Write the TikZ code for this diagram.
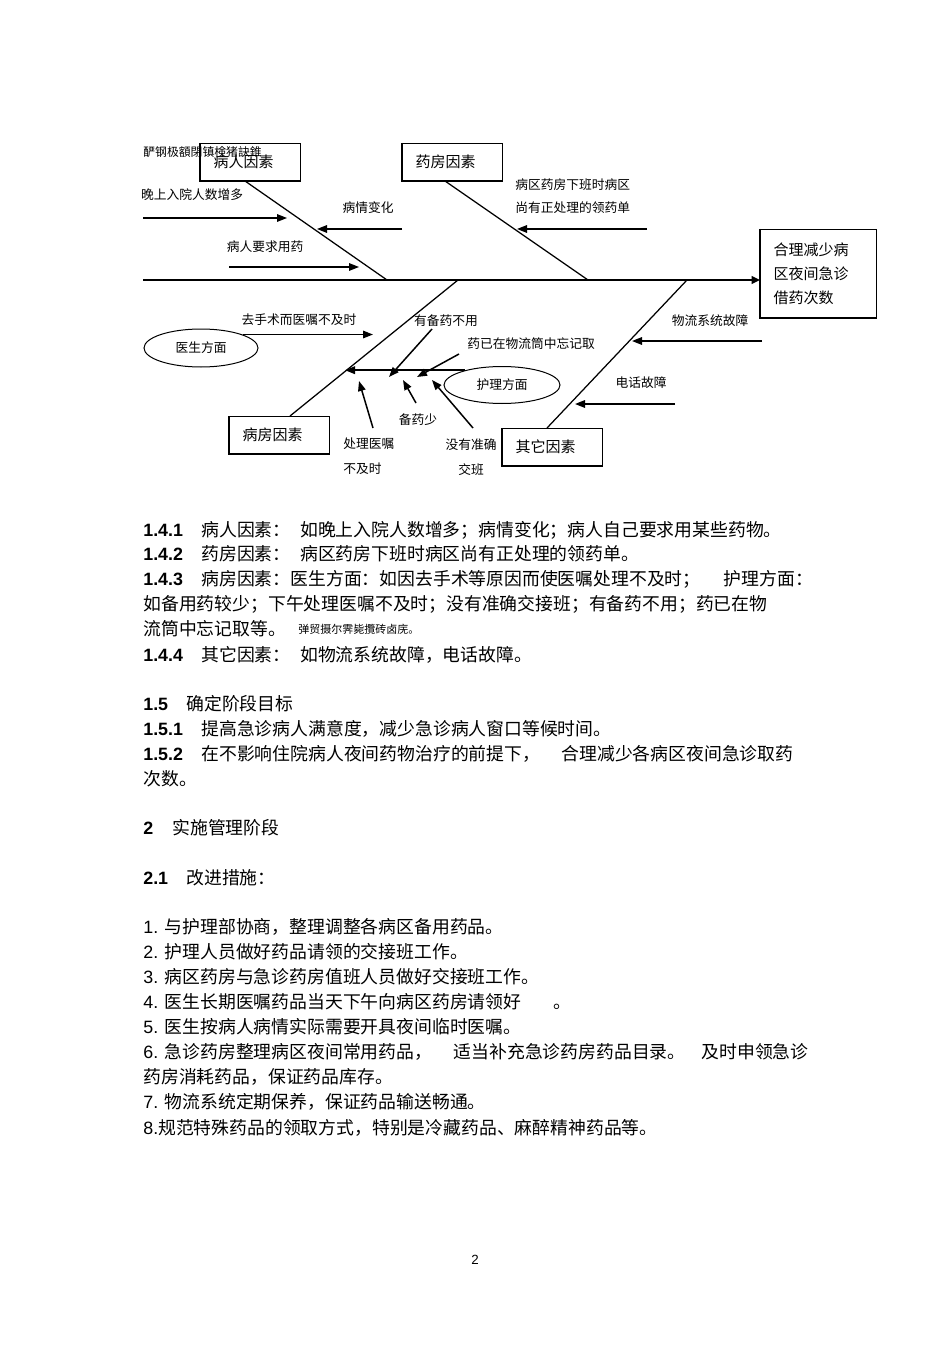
\documentclass[tikz,border=0pt]{standalone}
\usepackage{fontspec}
\setmainfont{Noto Sans CJK SC}
\newfontfamily\lat{Liberation Sans}
\usetikzlibrary{arrows.meta,positioning,calc,shapes.geometric}
\tikzset{
  cause/.style={draw,line width=0.6pt,anchor=north west,align=left,
    font=\fontsize{9}{10}\selectfont,inner xsep=7.8pt,inner ysep=0pt,
    text width=44.4pt,minimum height=22.2pt},
  effect/.style={cause,font=\fontsize{9}{14.4}\selectfont,
    text width=54pt,minimum height=52.8pt},
  heavy/.style={line width=1.2pt},
  oval/.style={draw,ellipse,line width=0.6pt,inner sep=0pt,
    font=\fontsize{7.65}{9}\selectfont},
  lbl/.style={font=\fontsize{7.65}{9}\selectfont,inner sep=0pt},
  junk/.style={anchor=west,inner sep=0pt},
  spine/.style={line width=1.2pt,-{Triangle[length=5pt,width=4.5pt]}},
  bone/.style={line width=0.75pt},
  arr/.style={line width=0.9pt,-{Triangle[length=6pt,width=4.5pt]}},
  body/.style={anchor=west,inner sep=0pt,font=\fontsize{10.7}{12}\selectfont},
  secnum/.style={body,font=\lat\bfseries\fontsize{10.7}{12}\selectfont},
}
\begin{document}
\begin{tikzpicture}[x=0.6pt,y=-0.6pt]
  \useasboundingbox[fill=white] (0,0) rectangle (950,1345);

  % fishbone: boxes
  \node[cause] (p1) at (200,143) {病人因素};
  \node[cause] (p2) at (402,143) {药房因素};
  \node[cause] (p3) at (229,416) {病房因素};
  \node[cause] (p4) at (502,428) {其它因素};
  \node[effect] (eff) at (760,229) {合理减少病\\区夜间急诊\\借药次数};
  \foreach \b in {p1,p2,p3,p4,eff}
    \draw[heavy] (\b.north west) |- (\b.south east);
  \node[junk,font=\fontsize{7.1}{8}\selectfont] (g1) at (143,152) {酽钢极額閉镇検猪訣錐};

  % spine and bones
  \coordinate (tail) at (143,280);
  \draw[spine] (tail) -- (tail -| eff.west);
  \foreach \n/\x in {j1/387,j2/588,j3/458,j4/687}
    \coordinate (\n) at (\x,280);
  \draw[bone] ($(p1.south west)+(45,0)$) -- (j1);
  \draw[bone] ($(p2.south west)+(43,0)$) -- (j2);
  \draw[bone] (j3) -- ($(p3.north west)+(61,0)$);
  \draw[bone] (j4) -- ($(p4.north west)+(45,0)$);

  % sub groups
  \node[oval,minimum width=68.4pt,minimum height=22.8pt] (doc) at (201,348) {医生方面};
  \node[oval,minimum width=69.6pt,minimum height=22.2pt] (nur) at (502,385) {护理方面};
  \coordinate (dt) at (373,342);
  \coordinate (st) at (345,378);
  \draw[arr] (doc.18) -- (doc.18 -| dt);
  \draw[spine,line width=1.1pt,-{Triangle[length=6pt,width=4.5pt]}] (nur.158) -- (nur.158 -| st);

  % cause arrows
  \foreach \n/\x/\y in {a1/143/218,a1t/287/218,a2/402/229,a2t/317/229,
      a3/229/267,a3t/359/267,a4/647/229,a4t/517/229,
      a5/762/341,a5t/632/341,a6/675/404,a6t/575/404,
      s1/432/329,s1t/389/377,s2/459/354,s2t/417/377,
      s3/416/403,s3t/403/380,s4/473/428,s4t/432/380,
      s5/373/428,s5t/359/381}
    \coordinate (\n) at (\x,\y);
  \foreach \a/\b in {a1/a1t,a2/a2t,a3/a3t,a4/a4t,a5/a5t,a6/a6t,
      s1/s1t,s2/s2t,s3/s3t,s4/s4t,s5/s5t}
    \draw[arr] (\a) -- (\b);

  % labels
  \node[lbl] (l1) at (192,195) {晚上入院人数增多};
  \node[lbl] (l2) at (368,208) {病情变化};
  \node[lbl] (l3) at (265,247) {病人要求用药};
  \node[lbl,anchor=west,align=left,font=\fontsize{7.65}{13.8}\selectfont]
    (l4) at (515,196) {病区药房下班时病区\\尚有正处理的领药单};
  \node[lbl] (l5) at (710,321) {物流系统故障};
  \node[lbl] (l6) at (641,383) {电话故障};
  \node[lbl] (l7) at (299,320) {去手术而医嘱不及时};
  \node[lbl] (l8) at (446,321) {有备药不用};
  \node[lbl] (l9) at (531,344) {药已在物流筒中忘记取};
  \node[lbl] (l10) at (418,420) {备药少};
  \node[lbl,align=center,font=\fontsize{7.65}{15}\selectfont]
    (l11) at (471,457) {没有准确\\交班};
  \node[lbl,anchor=west,align=left,font=\fontsize{7.65}{15}\selectfont]
    (l12) at (343,456) {处理医嘱\\不及时};

  % text below
  \node[secnum] (n1) at (143,530) {1.4.1};
  \node[body] (t1) at (201,530) {病人因素：\hspace{0.55em}如晚上入院人数增多；病情变化；病人自己要求用某些药物。};
  \node[secnum] (n2) at (143,554) {1.4.2};
  \node[body] (t2) at (201,554) {药房因素：\hspace{0.55em}病区药房下班时病区尚有正处理的领药单。};
  \node[secnum] (n3) at (143,579) {1.4.3};
  \node[body] (t3) at (201,579) {病房因素：医生方面：如因去手术等原因而使医嘱处理不及时；\hspace{1.3em}护理方面：};
  \node[body] (t4) at (143,604) {如备用药较少；下午处理医嘱不及时；没有准确交接班；有备药不用；药已在物};
  \node[body] (t5) at (143,629) {流筒中忘记取等。};
  \node[junk,font=\fontsize{6.6}{8}\selectfont] (g2) at (298,629) {弹贸摄尔霁毙攬砖卤庑。};
  \node[secnum] (n4) at (143,655) {1.4.4};
  \node[body] (t6) at (201,655) {其它因素：\hspace{0.55em}如物流系统故障，电话故障。};

  \node[secnum] (n5) at (143,704) {1.5};
  \node[body] (t7) at (186,704) {确定阶段目标};
  \node[secnum] (n6) at (143,729) {1.5.1};
  \node[body] (t8) at (201,729) {提高急诊病人满意度，减少急诊病人窗口等候时间。};
  \node[secnum] (n7) at (143,754) {1.5.2};
  \node[body] (t9) at (201,754) {在不影响住院病人夜间药物治疗的前提下，\hspace{1.2em}合理减少各病区夜间急诊取药};
  \node[body] (t10) at (143,779) {次数。};

  \node[secnum] (n8) at (143,828) {2};
  \node[body] (t11) at (172,828) {实施管理阶段};
  \node[secnum] (n9) at (143,878) {2.1};
  \node[body] (t12) at (186,878) {改进措施：};

  \node[body] (m1) at (143,927) {{\lat 1. }与护理部协商，整理调整各病区备用药品。};
  \node[body] (m2) at (143,952) {{\lat 2. }护理人员做好药品请领的交接班工作。};
  \node[body] (m3) at (143,977) {{\lat 3. }病区药房与急诊药房值班人员做好交接班工作。};
  \node[body] (m4) at (143,1002) {{\lat 4. }医生长期医嘱药品当天下午向病区药房请领好\hspace{1.8em}。};
  \node[body] (m5) at (143,1027) {{\lat 5. }医生按病人病情实际需要开具夜间临时医嘱。};
  \node[body] (m6) at (143,1052) {{\lat 6. }急诊药房整理病区夜间常用药品，\hspace{1.2em}适当补充急诊药房药品目录。\hspace{0.9em}及时申领急诊};
  \node[body] (m7) at (143,1077) {药房消耗药品，保证药品库存。};
  \node[body] (m8) at (143,1102) {{\lat 7. }物流系统定期保养，保证药品输送畅通。};
  \node[body] (m9) at (143,1128) {{\lat 8.}规范特殊药品的领取方式，特别是冷藏药品、麻醉精神药品等。};

  \node[junk,font=\lat\fontsize{8}{9}\selectfont] (pg) at (471,1260) {2};
\end{tikzpicture}
\end{document}
